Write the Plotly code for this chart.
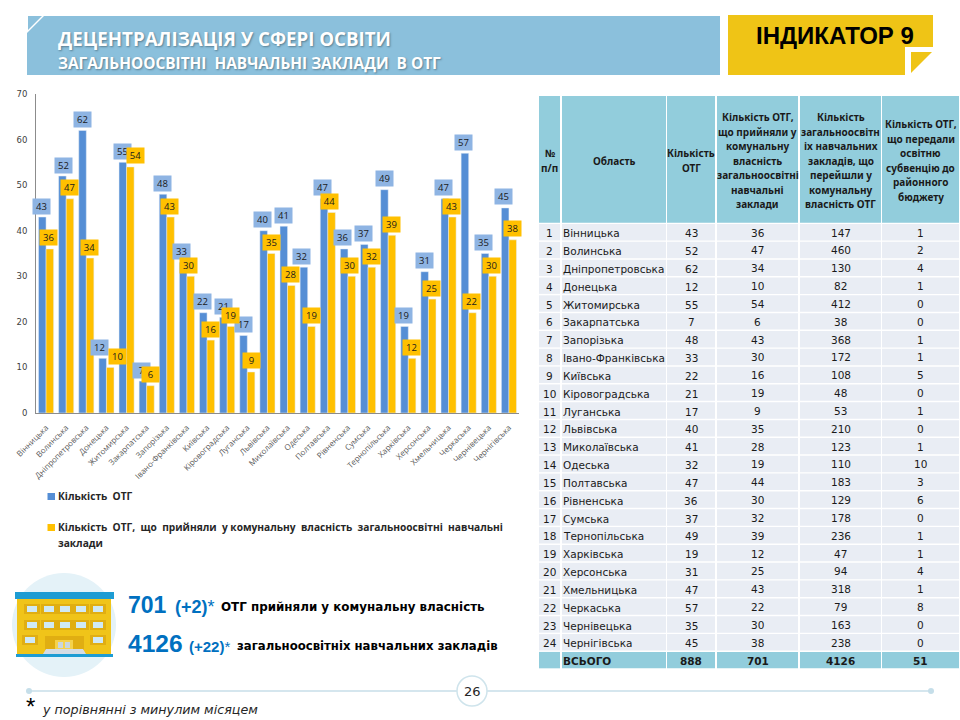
import plotly.graph_objects as go

regions = ["Вінницька","Волинська","Дніпропетровська","Донецька","Житомирська","Закарпатська","Запорізька","Івано-Франківська","Київська","Кіровоградська","Луганська","Львівська","Миколаївська","Одеська","Полтавська","Рівненська","Сумська","Тернопільська","Харківська","Херсонська","Хмельницька","Черкаська","Чернівецька","Чернігівська"]
otg = [43,52,62,12,55,7,48,33,22,21,17,40,41,32,47,36,37,49,19,31,47,57,35,45]
accepted = [36,47,34,10,54,6,43,30,16,19,9,35,28,19,44,30,32,39,12,25,43,22,30,38]
schools = [147,460,130,82,412,38,368,172,108,48,53,210,123,110,183,129,178,236,47,94,318,79,163,238]
subvention = [1,2,4,1,0,0,1,1,5,0,1,0,1,10,3,6,0,1,1,4,1,8,0,0]
totals = ["", "ВСЬОГО", "888", "701", "4126", "51"]
legend_first = "Кількість  ОТГ"
legend_second = ["Кількість  ОТГ,  що  прийняли  у комунальну  власність  загальноосвітні  навчальні", "заклади"]
header_lines = [["№", "п/п"], ["Область"], ["Кількість", "ОТГ"],
                ["Кількість ОТГ,", "що прийняли у", "комунальну", "власність", "загальноосвітні", "навчальні", "заклади"],
                ["Кількість", "загальноосвітн", "іх навчальних", "закладів, що", "перейшли у", "комунальну", "власність ОТГ"],
                ["Кількість ОТГ,", "що передали", "освітню", "субвенцію до", "районного", "бюджету"]]
blue_label_dx = [-5,-3,-4,-7,-4.5,-5,-4,-5,-5,-4,-4,-5,-4.5,-6,-5,-5,-5,-4,-5,-4,-5.5,-5.6,-5,-5]
yellow_label_dx = [2,3,3,10.6,8.5,3.4,3,2,3,3,4,4,2.5,3.4,2,2,3,3,3,3,2.5,2.4,3,4]

BLUE, YELLOW = "#558ED5", "#FFC000"
BLUE_LBL = "#8EB4E3"
SKY, GOLD, TEAL, ROW = "#8BC0DC", "#F0C419", "#92CDDC", "#E9EDF4"
BODY_FONT = "DejaVu Sans"
HEAD_FONT = "Open Sans"

def X(p): return p / 960
def Y(p): return 1 - p / 720

shapes, ann = [], []

def rect(x0, y0, x1, y1, fill):
    shapes.append(dict(type="rect", xref="paper", yref="paper", x0=X(x0), x1=X(x1), y0=Y(y0), y1=Y(y1),
                       fillcolor=fill, line=dict(width=0), layer="below"))

def circle(cx, cy, r, fill, line=None, w=0):
    shapes.append(dict(type="circle", xref="paper", yref="paper", x0=X(cx-r), x1=X(cx+r), y0=Y(cy+r), y1=Y(cy-r),
                       fillcolor=fill, line=dict(color=line or fill, width=w), layer="below"))

def poly(points, fill):
    path = "M " + " L ".join(f"{X(a):.5f},{Y(b):.5f}" for a, b in points) + " Z"
    shapes.append(dict(type="path", xref="paper", yref="paper", path=path, fillcolor=fill,
                       line=dict(width=0), layer="below"))

def txt(x, y, s, size, color="#000000", family=HEAD_FONT, anchor="left", shadow=None):
    font = dict(size=size, color=color, family=family)
    if shadow:
        font["shadow"] = shadow
    ann.append(dict(xref="paper", yref="paper", x=X(x), y=Y(y), text=s, showarrow=False, font=font,
                    xanchor=anchor, yanchor="middle", align=anchor, borderpad=0, borderwidth=0))

# title banner
poly([(27,33),(44,16),(720,16),(720,75),(27,75)], SKY)
poly([(28,16),(42,16),(28,30)], SKY)
txt(58, 38, "<b>ДЕЦЕНТРАЛІЗАЦІЯ У СФЕРІ ОСВІТИ</b>", 18.7, "#FFFFFF", shadow="1px 1px 2px #5a7f92")
txt(58, 63, "<b>ЗАГАЛЬНООСВІТНІ  НАВЧАЛЬНІ ЗАКЛАДИ  В ОТГ</b>", 15.4, "#FFFFFF", shadow="1px 1px 2px #5a7f92")

# indicator note
poly([(728,15),(933,15),(933,47),(905,47),(905,75),(728,75)], "#EFC416")
poly([(911,52),(932,52),(911,73)], "#EFC416")
txt(835, 35, "<b>ІНДИКАТОР 9</b>", 24, "#000000", "Liberation Sans", "center")

# chart legend
rect(47.5, 493, 55, 500, BLUE)
txt(57.5, 496, f"<b>{legend_first}</b>", 10.2, "#262626")
rect(47.5, 524, 55, 531, YELLOW)
txt(57.5, 527, f"<b>{legend_second[0]}</b>", 10.2, "#262626")
txt(57.5, 543, f"<b>{legend_second[1]}</b>", 10.2, "#262626")

# building icon
circle(64, 625, 52, "#E4F2F8")
rect(15, 592, 114, 599, "#1E9CD3")
rect(17, 599, 111, 654, GOLD)
rect(16, 654, 113, 657, "#1E9CD3")
for wy in (609, 625):
    for wx in (32, 49, 65, 81, 98):
        rect(wx-8, wy-5, wx+8, wy+5, "#E0AE12")
        rect(wx-5, wy-3, wx+5, wy+3, "#CFE9F4")
for wx in (30, 98):
    rect(wx-8, 635, wx+8, 645, "#E0AE12")
    rect(wx-5, 637, wx+5, 643, "#CFE9F4")
rect(45, 636, 84, 650, "#E0AE12")
rect(55, 640, 73, 650, "#F5D24B")
rect(58, 642, 63, 648, "#C9D6DF")
rect(65, 642, 70, 648, "#C9D6DF")
poly([(46,649),(83,649),(86,654),(43,654)], "#D5DCE4")

# summary
CALLOUT = "#0070C0"
txt(128, 605, "<b>701</b>", 23, CALLOUT, "Liberation Sans")
txt(175, 607, "<b>(+2)</b>*", 18, CALLOUT, "Liberation Sans")
txt(221, 607, "<b>ОТГ прийняли у комунальну власність</b>", 11.9, "#000000", BODY_FONT)
txt(128, 643, "<b>4126</b>", 24.5, CALLOUT, "Liberation Sans")
txt(189, 646, "<b>(+22)</b>*", 15, CALLOUT, "Liberation Sans")
txt(237, 646, "<b>загальноосвітніх навчальних закладів</b>", 11.7, "#000000", BODY_FONT)

# footer
FOOT = "#D5E6EE"
shapes.append(dict(type="line", xref="paper", yref="paper", x0=X(29), x1=X(931), y0=Y(691), y1=Y(691),
                   line=dict(color=FOOT, width=2), layer="below"))
circle(29, 691, 3, "#C5DEE9")
circle(931, 691, 3, "#C5DEE9")
circle(472, 691, 15, "#FFFFFF", "#CFE4EC", 1.5)
txt(472, 691, "26", 13, "#262626", BODY_FONT, "center")
txt(26, 706, "*", 24, "#000000", "Liberation Sans")
txt(42, 709, "<i>у порівнянні з минулим місяцем</i>", 12.7, "#262626", BODY_FONT)

# bars
fig = go.Figure()
fig.add_bar(x=regions, y=otg, name="Кількість ОТГ", marker_color=BLUE)
fig.add_bar(x=regions, y=accepted, name="Кількість ОТГ, що прийняли", marker_color=YELLOW)

def bar_labels(values, dxs, fill):
    for name, v, dx in zip(regions, values, dxs):
        ann.append(dict(xref="x", yref="y", x=name, y=v, text=str(v), showarrow=False,
                        xanchor="center", yanchor="middle", xshift=dx, yshift=11,
                        width=17, height=15, bgcolor=fill, borderpad=0,
                        font=dict(size=9.5, color="#1a1a1a", family=HEAD_FONT)))
bar_labels(otg, blue_label_dx, BLUE_LBL)
bar_labels(accepted, yellow_label_dx, YELLOW)

# table drawn as a grid of cells
col_left = [539, 562, 667, 717, 800, 882]
col_right = [560, 666, 715, 798, 881, 959]
n_rows = len(regions)
for l, r, lines in zip(col_left, col_right, header_lines):
    rect(l, 96, r, 222.7, TEAL)
    cx = (l + r) / 2
    for k, line in enumerate(lines):
        txt(cx, 160.5 + (k - (len(lines) - 1) / 2) * 14.5, f"<b>{line}</b>", 10, "#1a1a1a", "Noto Sans", "center")

columns = [[str(i + 1) for i in range(n_rows)], regions, otg, accepted, schools, subvention]
for i in range(n_rows + 1):
    top = 224 + 17.83 * i
    is_total = i == n_rows
    for c, (l, r) in enumerate(zip(col_left, col_right)):
        rect(l, top, r, top + 16.4, TEAL if is_total else ROW)
        value = totals[c] if is_total else columns[c][i]
        label = f"<b>{value}</b>" if is_total and value else str(value)
        cy = top + (9.3 if c < 3 or is_total else 8.6)
        if not label:
            continue
        if c == 1:
            txt(l + 0.8, cy, label, 10.5, "#1a1a1a", BODY_FONT, "left")
        else:
            txt((l + r) / 2, cy, label, 10.5, "#1a1a1a", BODY_FONT, "center")

HIDDEN = "rgba(0,0,0,0)"
fig.update_layout(
    width=960, height=720, margin=dict(l=0, r=0, t=0, b=0), autosize=False,
    paper_bgcolor="#FFFFFF", plot_bgcolor="#FFFFFF", showlegend=False,
    barmode="group", bargap=0.25, bargroupgap=0,
    xaxis=dict(domain=[X(36), X(519)], type="category", range=[-0.5, 23.5], tickangle=-45, showgrid=False, automargin=False,
               ticks="outside", ticklen=6, tickcolor=HIDDEN,
               showline=True, linecolor="#8C8C8C", linewidth=1,
               tickfont=dict(size=8, color="#595959", family=HEAD_FONT)),
    yaxis=dict(domain=[Y(413), Y(94)], range=[0, 70], dtick=10, showgrid=False, automargin=False,
               ticks="outside", ticklen=6, tickcolor=HIDDEN,
               showline=True, linecolor="#8C8C8C", linewidth=1,
               tickfont=dict(size=8.5, color="#404040", family=BODY_FONT)),
    shapes=shapes, annotations=ann,
)
fig.write_html("out.html", post_script="document.body.style.margin='0';", config=dict(displayModeBar=False))
